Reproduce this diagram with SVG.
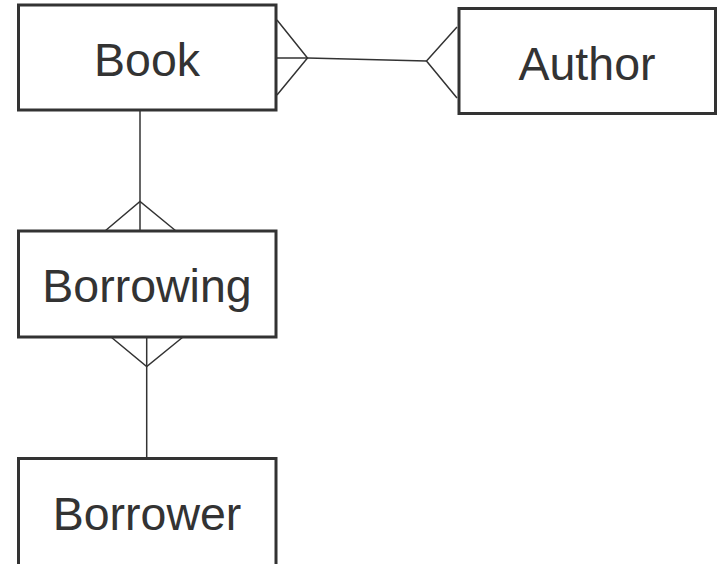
<svg xmlns="http://www.w3.org/2000/svg" width="721" height="564" viewBox="0 0 721 564">
  <style>
    .entity rect { fill: #ffffff; stroke: #333333; stroke-width: 3; }
    .entity text { font-family: "Liberation Sans", Arial, sans-serif; font-size: 46.5px; fill: #333333; text-anchor: middle; }
    .link { fill: none; stroke: #333333; stroke-width: 1.5; stroke-linejoin: miter; }
  </style>
  <rect width="721" height="564" fill="#ffffff"/>

  <!-- relationship lines with crow's-foot ends -->
  <g id="connectors">
    <!-- Book (many) to Author (many) -->
    <polyline class="link" points="277,20 307.5,58 277,95"/>
    <polyline class="link" points="277,58 307.5,58 426.5,61"/>
    <polyline class="link" points="457,27 426.5,61 457,98"/>
    <!-- Book (one) to Borrowing (many) -->
    <line class="link" x1="140" y1="110" x2="140" y2="231"/>
    <polyline class="link" points="105,231 140,201.5 176,231"/>
    <!-- Borrowing (many) to Borrower (one) -->
    <line class="link" x1="146.7" y1="337" x2="146.7" y2="458"/>
    <polyline class="link" points="111,337 146.7,366.5 183,337"/>
  </g>

  <g id="book" class="entity">
    <rect x="18.5" y="5" width="257.5" height="105"/>
    <text x="147" y="76">Book</text>
  </g>
  <g id="author" class="entity">
    <rect x="459" y="8.5" width="256.5" height="105"/>
    <text x="587" y="79.5">Author</text>
  </g>
  <g id="borrowing" class="entity">
    <rect x="18.5" y="231" width="257.5" height="106"/>
    <text x="147" y="302">Borrowing</text>
  </g>
  <g id="borrower" class="entity">
    <rect x="18.5" y="458.5" width="257.5" height="120"/>
    <text x="147" y="529.5">Borrower</text>
  </g>
</svg>
